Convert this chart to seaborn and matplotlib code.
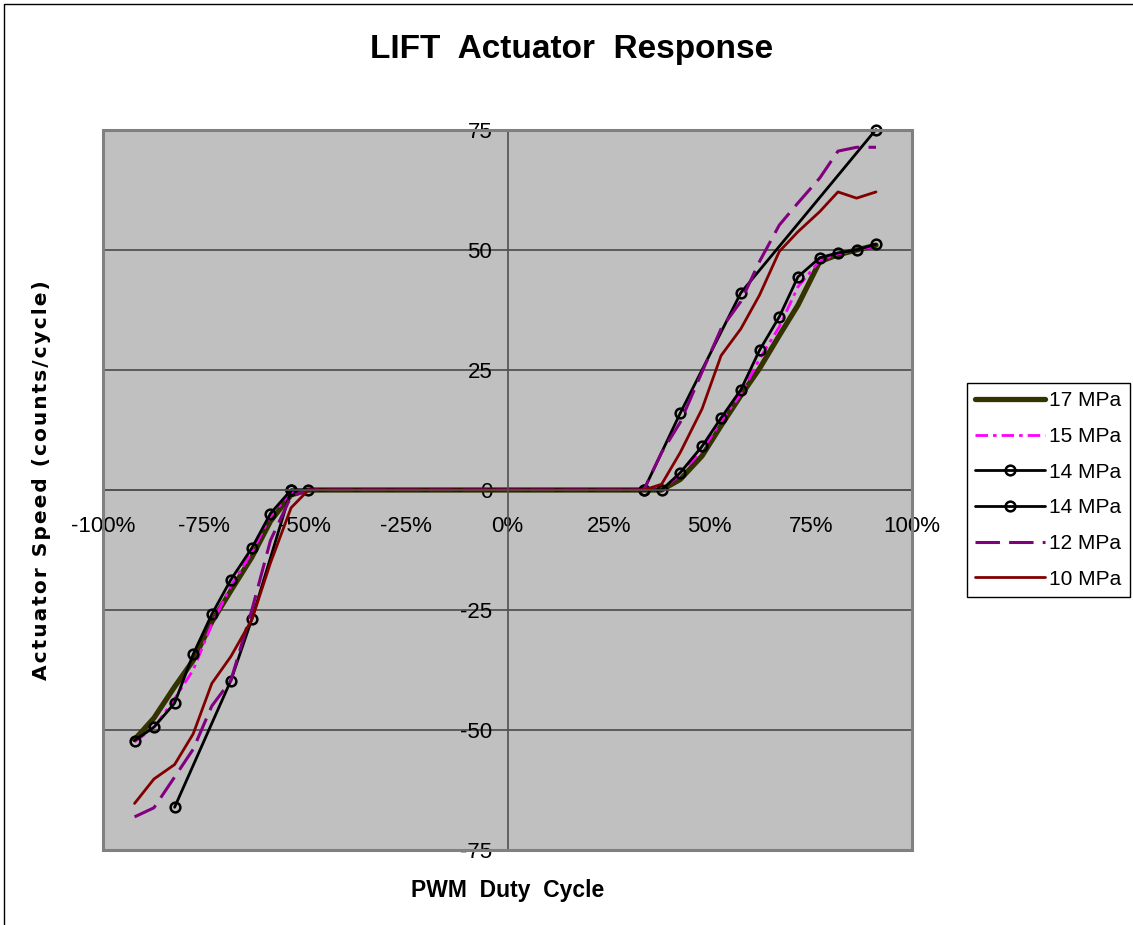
import numpy as np
import pandas as pd
import seaborn as sns
import matplotlib.pyplot as plt
from matplotlib.lines import Line2D
from matplotlib.patches import Rectangle
from matplotlib.ticker import FixedLocator, PercentFormatter

# duty cycle (%)
duty_neg = [-92.2, -87.4, -82.3, -77.7, -73.1, -68.4, -63.2, -58.6, -53.5, -49.2]
duty_pos = [33.7, 38.1, 42.7, 48.1, 52.8, 57.7, 62.3, 67.2, 71.8, 77.2, 81.7, 86.3, 91.1]
duty = duty_neg + duty_pos

# actuator speed (counts/cycle)
mpa17 = [-52, -47.5, -41, -35.5, -27.5, -21, -14, -6.5, -1, 0,
         0, 0, 2.2, 7.1, 13.4, 19.7, 25.3, 32.2, 38.5, 47.6, 49, 50, 51]
mpa15 = [-52.5, -49.5, -43.5, -37.5, -28, -20, -13, -5.5, -0.5, 0,
         0, 0, 3.3, 8.3, 14.3, 20, 27.3, 34, 42.3, 47.8, 49.2, 50, 50.8]
mpa14a = [-52.2, -49.4, -44.4, -34.2, -25.9, -18.7, -12.1, -4.9, 0, 0,
          0, 0, 3.6, 9.1, 15.0, 20.9, 29.1, 36.1, 44.4, 48.4, 49.4, 50.0, 51.2]
duty14b = [-82.3, -68.4, -63.2, -53.5, 33.7, 42.7, 57.7, 91.1]
mpa14b = [-66.1, -39.7, -26.9, 0, 0, 16.0, 41.1, 75.1]
mpa12 = [-68.1, -66.2, -59.8, -54.0, -45.0, -39.7, -25.0, -10.5, -1.3, 0,
         0, 7.8, 14.1, 24.6, 33.6, 39.3, 47.6, 55.2, 59.8, 65.0, 70.6, 71.4, 71.4]
mpa10 = [-65.3, -60.2, -57.2, -50.8, -40.3, -34.7, -27.0, -15.2, -3.7, 0,
         0, 1.2, 7.8, 16.9, 28.0, 33.6, 40.6, 49.7, 53.8, 58.0, 62.1, 60.8, 62.1]

sns.set_style('white', {'axes.facecolor': '#C0C0C0'})
plt.rcParams['font.family'] = ['Liberation Sans', 'DejaVu Sans']
plt.rcParams['axes.unicode_minus'] = False
plt.rcParams['text.color'] = 'black'
plt.rcParams['axes.labelcolor'] = 'black'
plt.rcParams['xtick.color'] = 'black'
plt.rcParams['ytick.color'] = 'black'

fig = plt.figure(figsize=(11.33, 9.25), dpi=100)
ax = fig.add_axes([103/1133, 1-850/925, 809/1133, 720/925])

circle = dict(marker='o', markersize=7, markerfacecolor='none',
              markeredgecolor='black', markeredgewidth=1.8)

sns.lineplot(x=duty, y=mpa17, ax=ax, color='#333300', lw=3.8, label='17 MPa')
sns.lineplot(x=duty, y=mpa15, ax=ax, color='#FF00FF', lw=2.0,
             linestyle=(0, (4.5, 1.8, 1.3, 1.8)), label='15 MPa')
sns.lineplot(x=duty, y=mpa14a, ax=ax, color='black', lw=2.0, label='14 MPa',
             clip_on=False, **circle)
sns.lineplot(x=duty14b, y=mpa14b, ax=ax, color='black', lw=2.0, label='14 MPa',
             clip_on=False, **circle)
sns.lineplot(x=duty, y=mpa12, ax=ax, color='#800080', lw=2.2,
             linestyle=(0, (8, 3)), label='12 MPa')
sns.lineplot(x=duty, y=mpa10, ax=ax, color='#800000', lw=2.0, label='10 MPa')

ax.set_xlim(-100, 100)
ax.set_ylim(-75, 75)
ax.xaxis.set_major_locator(FixedLocator(np.arange(-100, 101, 25)))
ax.xaxis.set_major_formatter(PercentFormatter(xmax=100, decimals=0))
ax.yaxis.set_major_locator(FixedLocator(np.arange(-75, 76, 25)))
ax.yaxis.grid(True, color='#404040', lw=1.1)
ax.xaxis.grid(False)
ax.set_axisbelow(True)

for s in ['top', 'right']:
    ax.spines[s].set_visible(False)
ax.spines['left'].set_position(('data', 0))
ax.spines['bottom'].set_position(('data', 0))
for s in ['left', 'bottom']:
    ax.spines[s].set_color('#505050')
    ax.spines[s].set_linewidth(1.2)
ax.tick_params(axis='x', direction='out', length=4, width=1, color='#505050',
               pad=15, labelsize=16)
ax.tick_params(axis='y', direction='out', length=4, width=1, color='#505050',
               pad=7, labelsize=16)

# outer plot-area frame
ax.add_patch(Rectangle((0, 0), 1, 1, transform=ax.transAxes, fill=False,
                       ec='#808080', lw=2.2, clip_on=False, zorder=5))

ax.set_xlabel('PWM  Duty  Cycle', fontsize=16.5, fontweight='bold', va='baseline')
ax.xaxis.set_label_coords(0.5, -0.065)
# Excel spreads the letters of the axis title a little
ylab = '\u200a'.join('Actuator Speed (counts/cycle)')
ax.set_ylabel(ylab, fontsize=14.5, fontweight='bold',
              va='baseline', family='DejaVu Sans')
ax.yaxis.set_label_coords(-0.0696, 0.514)

fig.text(572/1133, 1-58.3/925, 'LIFT  Actuator  Response', ha='center',
         va='baseline', fontsize=24, fontweight='bold')

leg = ax.legend(loc='upper left', bbox_to_anchor=(967/1133, 1-383/925),
                bbox_transform=fig.transFigure, fontsize=15, frameon=True,
                fancybox=False, edgecolor='black', facecolor='white',
                framealpha=1, borderaxespad=0, borderpad=0.4,
                handlelength=3.35, handletextpad=0.2, labelspacing=0.8)
leg.get_frame().set_linewidth(1.0)

# chart-area border (left and top edges visible)
fig.add_artist(Line2D([4/1133, 4/1133, 1], [0, 1-4/925, 1-4/925],
                      transform=fig.transFigure, color='black', lw=1))

fig.savefig('out.png', dpi=100)
